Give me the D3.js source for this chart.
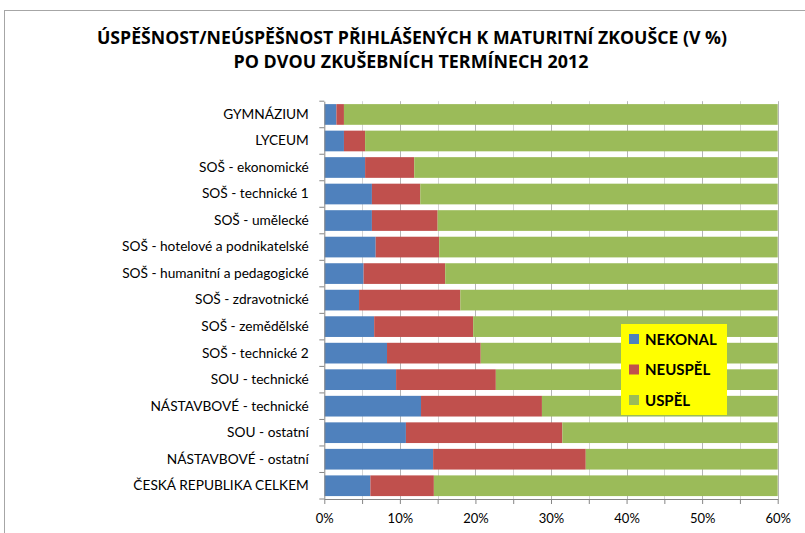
<!DOCTYPE html>
<html>
<head>
<meta charset="utf-8">
<script src="https://cdn.jsdelivr.net/npm/d3@7"></script>
<style>
body{margin:0;background:#fff;}
svg{display:block;font-family:Lato,"Liberation Sans",sans-serif;}
</style>
</head>
<body>
<svg></svg>
<script>
var width=805;
var height=533;

var categories=['GYMNÁZIUM','LYCEUM','SOŠ - ekonomické','SOŠ - technické 1','SOŠ - umělecké',
	'SOŠ - hotelové a podnikatelské','SOŠ - humanitní a pedagogické','SOŠ - zdravotnické',
	'SOŠ - zemědělské','SOŠ - technické 2','SOU - technické','NÁSTAVBOVÉ - technické',
	'SOU - ostatní','NÁSTAVBOVÉ - ostatní ','ČESKÁ REPUBLIKA CELKEM'];
var nekonal=[1.6,2.6,5.4,6.3,6.3,6.8,5.2,4.6,6.6,8.3,9.5,12.8,10.8,14.4,6.1];
var neuspel=[1.0,2.8,6.5,6.4,8.7,8.4,10.8,13.4,13.1,12.4,13.2,16.0,20.7,20.2,8.4];
var uspel=[97.4,94.6,88.1,87.3,85.0,84.8,84.0,82.0,80.3,79.3,77.3,71.2,68.5,65.4,85.5];
var seriesNames=['NEKONAL','NEUSPĚL','USPĚL'];
var colors=['#4F81BD','#C0504D','#9BBB59'];
var xTicks=[0,10,20,30,40,50,60];
var title1='ÚSPĚŠNOST/NEÚSPĚŠNOST PŘIHLÁŠENÝCH K MATURITNÍ ZKOUŠCE (V %)';
var title2='PO DVOU ZKUŠEBNÍCH TERMÍNECH 2012';

var plotLeft=324.3, plotRight=777.7, plotTop=101.2, plotBottom=499;

var rows=categories.map(function(c,i){
	return {cat:c,NEKONAL:nekonal[i],'NEUSPĚL':neuspel[i],'USPĚL':uspel[i]};
});
var stacked=d3.stack().keys(seriesNames)(rows);

var xScale=d3.scaleLinear().domain([0,60]).range([plotLeft,plotRight]);
var yScale=d3.scaleBand().domain(categories).range([plotTop,plotBottom])
	.paddingInner(0.22).paddingOuter(0.11);

var svg=d3.select('svg').attr('width',width).attr('height',height);

// outer frame
svg.append('rect')
	.attr('x',4.5).attr('y',10.5)
	.attr('width',width+10).attr('height',height+10)
	.attr('fill','none').attr('stroke','#a6a6a6');

// titles
svg.append('text').attr('x',412).attr('y',44)
	.attr('text-anchor','middle').attr('font-weight','bold').attr('font-size',17)
	.attr('font-family','"Open Sans",sans-serif')
	.attr('textLength',630).attr('lengthAdjust','spacingAndGlyphs')
	.text(title1);
svg.append('text').attr('x',411).attr('y',68)
	.attr('text-anchor','middle').attr('font-weight','bold').attr('font-size',17)
	.attr('font-family','"Open Sans",sans-serif')
	.attr('textLength',355).attr('lengthAdjust','spacingAndGlyphs')
	.text(title2);

// grid lines every 5%
svg.append('g').selectAll('line')
	.data(d3.range(5,61,5))
	.enter().append('line')
	.attr('x1',d=>Math.round(xScale(d))+0.5).attr('x2',d=>Math.round(xScale(d))+0.5)
	.attr('y1',plotTop).attr('y2',plotBottom)
	.attr('stroke',d=>d%10===0?'#b5b5b5':'#d4d4d4');

svg.append('defs').append('clipPath').attr('id','plotclip')
	.append('rect').attr('x',plotLeft).attr('y',0).attr('width',plotRight-plotLeft).attr('height',height);

svg.append('g').attr('clip-path','url(#plotclip)')
	.selectAll('g').data(stacked).enter().append('g')
	.attr('fill',(d,i)=>colors[i])
	.selectAll('rect').data(d=>d).enter().append('rect')
	.attr('x',d=>xScale(d[0]))
	.attr('y',d=>yScale(d.data.cat))
	.attr('width',d=>xScale(d[1])-xScale(d[0]))
	.attr('height',yScale.bandwidth());

// x axis
var xAxis=d3.axisBottom(xScale).tickValues(d3.range(0,61,5))
	.tickSize(5).tickSizeOuter(0)
	.tickFormat(d=>xTicks.indexOf(d)>=0?d+'%':'');
var gx=svg.append('g').attr('transform','translate(0,'+plotBottom+')').call(xAxis);
gx.select('.domain').attr('stroke','#868686');
gx.selectAll('.tick line').attr('stroke','#868686');
gx.selectAll('.tick text').attr('font-size',13).attr('fill','#000')
	.attr('font-family','Lato,sans-serif').attr('dy','1.2em');

// y axis
var yAxis=d3.axisLeft(yScale).tickSize(0).tickSizeOuter(0).tickPadding(15.5);
var gy=svg.append('g').attr('transform','translate('+plotLeft+',0)').call(yAxis);
gy.select('.domain').attr('stroke','#868686');
gy.selectAll('.tick text').attr('font-size',13.7).attr('fill','#000')
	.attr('font-family','Lato,sans-serif');
var step=yScale.step();
svg.append('g').selectAll('line')
	.data(d3.range(categories.length+1))
	.enter().append('line')
	.attr('x1',plotLeft-5).attr('x2',plotLeft)
	.attr('y1',d=>plotTop+d*step).attr('y2',d=>plotTop+d*step)
	.attr('stroke','#868686');

// legend
var legend=svg.append('g').attr('transform','translate(621,324)');
legend.append('rect').attr('width',106).attr('height',91).attr('fill','#FFFF00');
var li=legend.selectAll('g.item').data(seriesNames).enter().append('g')
	.attr('transform',(d,i)=>'translate(8,'+(15+i*30.5)+')');
li.append('rect').attr('x',0).attr('y',-5).attr('width',10).attr('height',10)
	.attr('fill',(d,i)=>colors[i]);
li.append('text').attr('x',16).attr('y',5.5)
	.attr('font-weight','bold').attr('font-size',15)
	.attr('font-family','Lato,sans-serif')
	.text(d=>d);
</script>
</body>
</html>
